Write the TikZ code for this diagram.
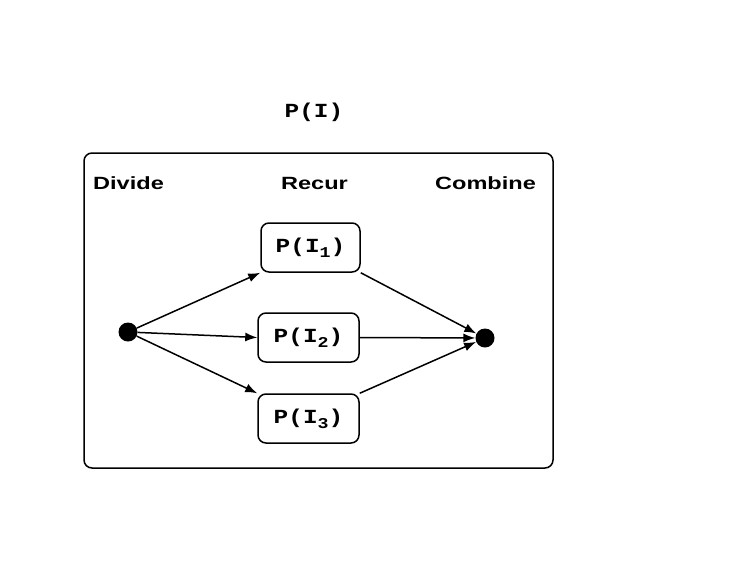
\documentclass[tikz,border=0pt]{standalone}
\usepackage{fontspec}
\setmainfont{Liberation Sans}
\newfontfamily\monofnt{Liberation Mono}
\usetikzlibrary{arrows.meta}
\newcommand{\lbl}[1]{\scalebox{1.33}[1]{\fontsize{17.7}{20}\selectfont\bfseries #1}}
\newcommand{\mono}[1]{\scalebox{1.22}[1]{\fontsize{20}{24}\selectfont\monofnt\bfseries #1}}
\newcommand{\subs}[1]{\raisebox{-0.5ex}{\fontsize{15}{18}\selectfont #1}}
\begin{document}
\begin{tikzpicture}[x=1pt,y=-1pt,
  frame/.style={draw, line width=1.5pt, rounded corners=8pt},
  pbox/.style={draw, line width=1.5pt, rounded corners=8pt, minimum height=49pt, inner sep=0pt},
  dot/.style={circle, fill=black, minimum size=19pt, inner sep=0pt},
  arr/.style={line width=1.5pt, -{Latex[length=12pt,width=9pt]}}]
\useasboundingbox (0,0) rectangle (755,579);
\draw[frame] (84,153) rectangle (553,468);
\node (title) at (314,112) {\mono{P(I)}};
\node[anchor=base west, inner sep=0pt] (divide) at (93,189) {\lbl{Divide}};
\node[anchor=base, inner sep=0pt] (recur) at (314.5,189) {\lbl{Recur}};
\node[anchor=base, inner sep=0pt] (combine) at (485.5,189) {\lbl{Combine}};
\node[pbox, minimum width=99pt] (b1) at (310.5,247.5) {\mono{P(I\subs{1})}};
\node[pbox, minimum width=101pt] (b2) at (308.5,337.5) {\mono{P(I\subs{2})}};
\node[pbox, minimum width=101pt] (b3) at (308.5,418.5) {\mono{P(I\subs{3})}};
\node[dot] (L) at (128,332) {};
\node[dot] (R) at (485,338) {};
\draw[arr] (L) -- (b1.south west);
\draw[arr] (L) -- (b2.west);
\draw[arr] (L) -- (b3.north west);
\draw[arr] (b1.south east) -- (R);
\draw[arr] (b2.east) -- (R);
\draw[arr] (b3.north east) -- (R);
\end{tikzpicture}
\end{document}
